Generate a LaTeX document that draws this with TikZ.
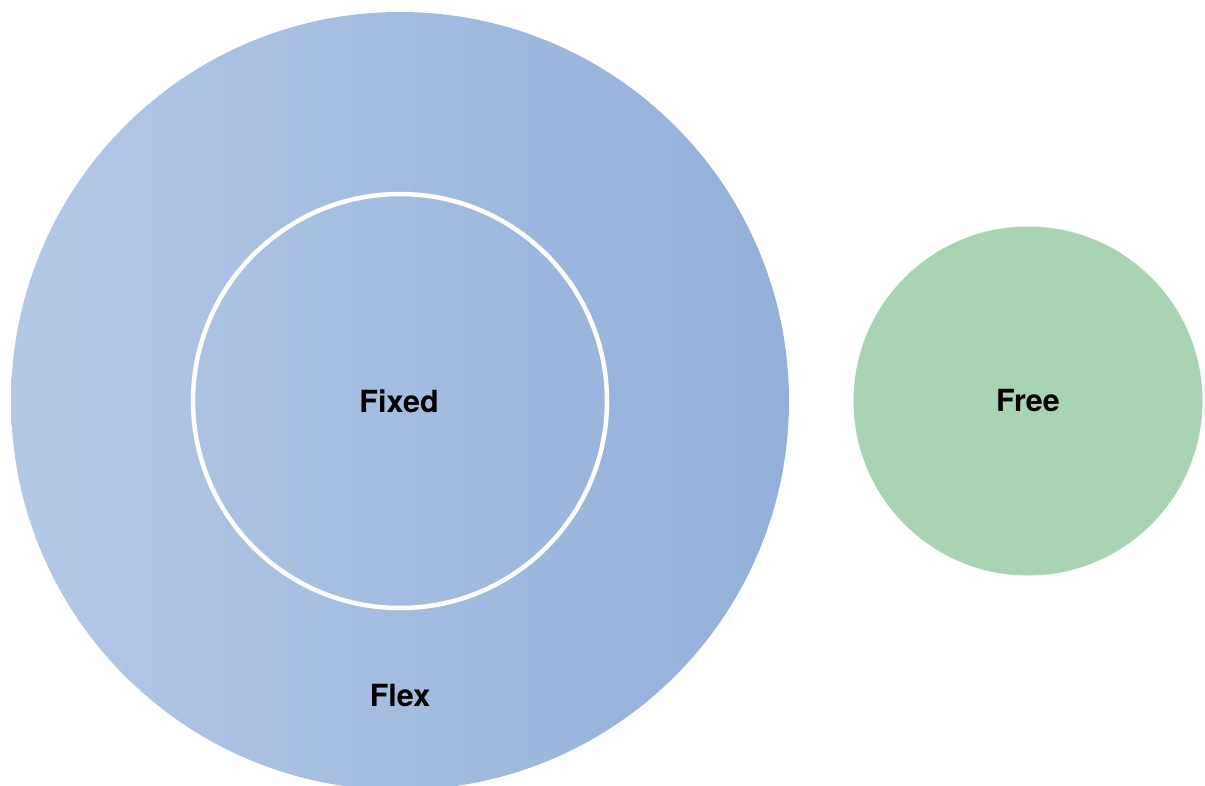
\documentclass[tikz,border=0pt]{standalone}
\usepackage{fontspec}
\setmainfont{TeX Gyre Heros}
\begin{document}
\begin{tikzpicture}[x=1pt,y=-1pt,
  lbl/.style={font=\fontsize{30.5}{34}\selectfont\bfseries, text=black, inner sep=0pt}]
  \definecolor{flexL}{RGB}{180,200,230}
  \definecolor{flexR}{RGB}{146,176,218}
  \definecolor{freeG}{RGB}{168,212,179}
  \useasboundingbox (0,0) rectangle (1205,785);
  % outer ring (Flex) with horizontal gradient
  \shade[left color=flexL, right color=flexR] (400,401) circle (389);
  % inner ring (Fixed)
  \draw[white, line width=4.5] (400,401) circle (207);
  % Free
  \fill[freeG] (1028,401) circle (174.5);
  \node[lbl] (fixed) at (399,401) {Fixed};
  \node[lbl] (flex) at (400,696) {Flex};
  \node[lbl] (free) at (1028,401) {Free};
\end{tikzpicture}
\end{document}
